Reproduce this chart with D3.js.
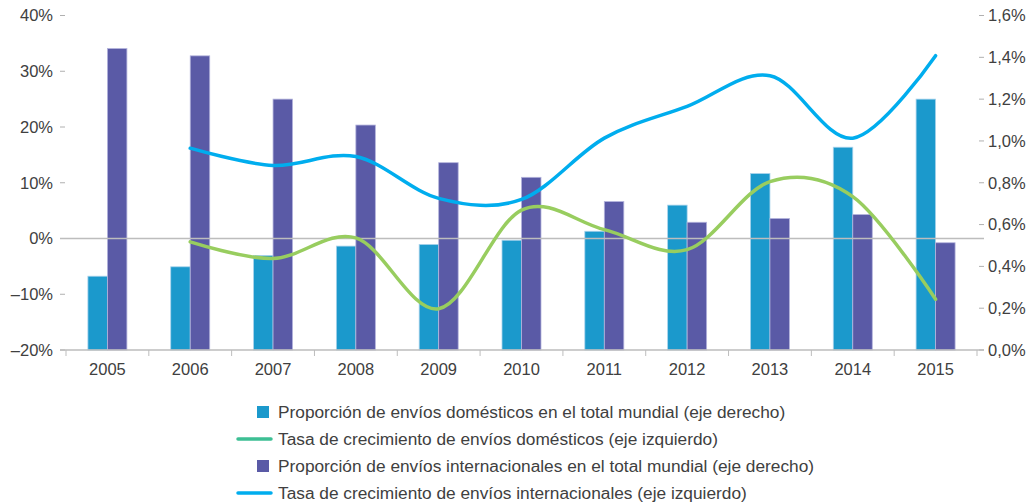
<!DOCTYPE html>
<html lang="es">
	<head>
		<meta charset="utf-8">
		<title>Envíos domésticos e internacionales</title>
		<script src="https://d3js.org/d3.v7.min.js"></script>
		<style type="text/css">
		body { margin: 0; background: #fff; }
		text { font-family: "Liberation Sans", Arial, sans-serif; fill: #404040; }
		</style>
	</head>
	<body>
		<script type="text/javascript">

			//Data
			var years = ["2005","2006","2007","2008","2009","2010","2011","2012","2013","2014","2015"];
			// proportion of world total, % (right axis)
			var shareDomestic = [0.353, 0.398, 0.452, 0.497, 0.505, 0.525, 0.568, 0.693, 0.844, 0.970, 1.200];
			var shareIntl = [1.442, 1.407, 1.200, 1.076, 0.896, 0.826, 0.710, 0.611, 0.629, 0.648, 0.513];
			// growth rate, % (left axis); no value for 2005
			var growthDomestic = [null, -0.6, -3.6, 0.1, -12.6, 5.1, 1.6, -2.0, 10.2, 7.5, -10.9];
			var growthIntl = [null, 16.2, 13.1, 14.7, 7.2, 7.0, 18.0, 23.7, 29.2, 18.0, 32.8];
			var leftTicks = [-20, -10, 0, 10, 20, 30, 40];
			var rightTicks = [0, 0.2, 0.4, 0.6, 0.8, 1.0, 1.2, 1.4, 1.6];
			var legendLabels = [
				"Proporción de envíos domésticos en el total mundial (eje derecho)",
				"Tasa de crecimiento de envíos domésticos (eje izquierdo)",
				"Proporción de envíos internacionales en el total mundial (eje derecho)",
				"Tasa de crecimiento de envíos internacionales (eje izquierdo)"
			];

			var w = 1031;
			var h = 504;

			var svg = d3.select("body")
						.append("svg")
						.attr("width", w)
						.attr("height", h);

			//Scales
			var x = d3.scaleBand()
						.domain(years)
						.range([66, 977]);

			var yLeft = d3.scaleLinear()
						.domain([-20, 40])
						.range([350, 15.5]);

			var yRight = d3.scaleLinear()
						.domain([0, 1.6])
						.range([350, 15.5]);

			var fmtLeft = function(d) { return (d < 0 ? "\u2013" + Math.abs(d) : d) + "%"; };
			var fmtRight = function(d) { return d3.format(".1f")(d).replace(".", ",") + "%"; };

			//Left axis ticks
			svg.selectAll(".lt")
				.data(leftTicks)
				.enter()
				.append("line")
				.attr("x1", 60).attr("x2", 65)
				.attr("y1", function(d) { return yLeft(d); })
				.attr("y2", function(d) { return yLeft(d); })
				.attr("stroke", "#b0b0b0");

			svg.selectAll(".ll")
				.data(leftTicks)
				.enter()
				.append("text")
				.attr("x", 53)
				.attr("y", function(d) { return yLeft(d); })
				.attr("dy", "0.35em")
				.attr("text-anchor", "end")
				.style("font-size", "16.5px")
				.text(fmtLeft);

			//Right axis ticks
			svg.selectAll(".rt")
				.data(rightTicks)
				.enter()
				.append("line")
				.attr("x1", 979).attr("x2", 984)
				.attr("y1", function(d) { return yRight(d); })
				.attr("y2", function(d) { return yRight(d); })
				.attr("stroke", "#b0b0b0");

			svg.selectAll(".rl")
				.data(rightTicks)
				.enter()
				.append("text")
				.attr("x", 988)
				.attr("y", function(d) { return yRight(d); })
				.attr("dy", "0.35em")
				.style("font-size", "16.5px")
				.text(fmtRight);

			//Bars
			var bw = 19.5;
			var rows = years.map(function(y, i) {
				return { year: y, dom: shareDomestic[i], intl: shareIntl[i] };
			});

			svg.selectAll(".bd")
				.data(rows)
				.enter()
				.append("rect")
				.attr("x", function(d) { return x(d.year) + x.bandwidth() / 2 - bw; })
				.attr("y", function(d) { return yRight(d.dom); })
				.attr("width", bw)
				.attr("height", function(d) { return yRight(0) - yRight(d.dom); })
				.attr("fill", "#1b99cc")
				.attr("stroke", "#a9d3ec")
				.attr("stroke-width", 0.8);

			svg.selectAll(".bi")
				.data(rows)
				.enter()
				.append("rect")
				.attr("x", function(d) { return x(d.year) + x.bandwidth() / 2; })
				.attr("y", function(d) { return yRight(d.intl); })
				.attr("width", bw)
				.attr("height", function(d) { return yRight(0) - yRight(d.intl); })
				.attr("fill", "#5a5aa6")
				.attr("stroke", "#b4b4dc")
				.attr("stroke-width", 0.8);

			//Zero line and baseline
			svg.append("line")
				.attr("x1", 60).attr("x2", 984)
				.attr("y1", yLeft(0)).attr("y2", yLeft(0))
				.attr("stroke", "#bdbdbd")
				.attr("stroke-width", 1.5);

			svg.append("line")
				.attr("x1", 60).attr("x2", 984)
				.attr("y1", 350).attr("y2", 350)
				.attr("stroke", "#bdbdbd")
				.attr("stroke-width", 1.5);

			svg.selectAll(".xt")
				.data(years.concat(["end"]))
				.enter()
				.append("line")
				.attr("x1", function(d) { return d === "end" ? 977 : x(d); })
				.attr("x2", function(d) { return d === "end" ? 977 : x(d); })
				.attr("y1", 350).attr("y2", 356)
				.attr("stroke", "#bdbdbd");

			svg.selectAll(".xl")
				.data(years)
				.enter()
				.append("text")
				.attr("x", function(d) { return x(d) + x.bandwidth() / 2; })
				.attr("y", 375)
				.attr("text-anchor", "middle")
				.style("font-size", "16.5px")
				.text(function(d) { return d; });

			//Lines
			var line = d3.line()
						.x(function(d) { return x(d.year) + x.bandwidth() / 2; })
						.y(function(d) { return yLeft(d.v); })
						.curve(d3.curveCardinal.tension(0));

			var greenData = years.map(function(y, i) { return { year: y, v: growthDomestic[i] }; })
								.filter(function(d) { return d.v !== null; });
			var blueData = years.map(function(y, i) { return { year: y, v: growthIntl[i] }; })
								.filter(function(d) { return d.v !== null; });

			svg.append("path")
				.attr("d", line(greenData))
				.attr("fill", "none")
				.attr("stroke", "#98cd5f")
				.attr("stroke-width", 3.5)
				.attr("stroke-linecap", "round");

			svg.append("path")
				.attr("d", line(blueData))
				.attr("fill", "none")
				.attr("stroke", "#00adee")
				.attr("stroke-width", 3.5)
				.attr("stroke-linecap", "round");

			//Legend
			var legendY = [412, 439, 466, 493];
			var legendKinds = [
				{ type: "rect", color: "#1b99cc" },
				{ type: "line", color: "#3dbf94" },
				{ type: "rect", color: "#5a5aa6" },
				{ type: "line", color: "#00adee" }
			];

			var leg = svg.selectAll(".leg")
						.data(legendLabels)
						.enter()
						.append("g")
						.attr("transform", function(d, i) { return "translate(0," + legendY[i] + ")"; });

			leg.each(function(d, i) {
				var g = d3.select(this);
				var k = legendKinds[i];
				if (k.type === "rect") {
					g.append("rect")
						.attr("x", 257).attr("y", -6)
						.attr("width", 12).attr("height", 12)
						.attr("fill", k.color);
				} else {
					g.append("line")
						.attr("x1", 238).attr("x2", 271)
						.attr("y1", 0).attr("y2", 0)
						.attr("stroke", k.color)
						.attr("stroke-width", 3.5)
						.attr("stroke-linecap", "round");
				}
			});

			leg.append("text")
				.attr("x", 278)
				.attr("y", 0)
				.attr("dy", "0.35em")
				.style("font-size", "17.3px")
				.text(function(d) { return d; });

		</script>
	</body>
</html>
